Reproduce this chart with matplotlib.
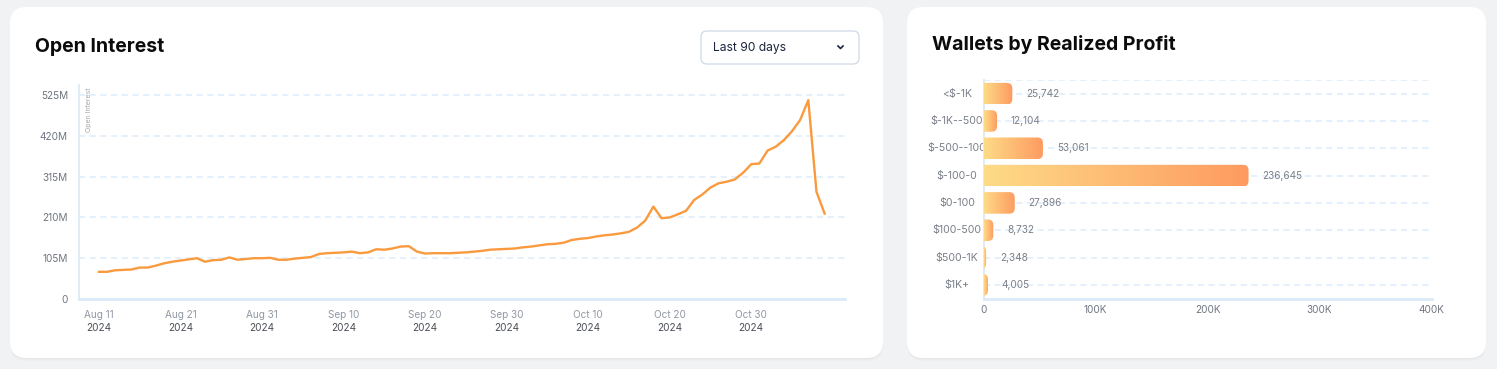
import numpy as np
import pandas as pd
import matplotlib
matplotlib.use("Agg")
import matplotlib.pyplot as plt
import matplotlib.dates as mdates
from matplotlib.patches import FancyBboxPatch, PathPatch
from matplotlib.path import Path
from matplotlib.colors import LinearSegmentedColormap
from matplotlib.transforms import Bbox, TransformedBbox, blended_transform_factory

plt.rcParams["font.family"] = ["Inter", "DejaVu Sans"]

# ---- data: open interest (millions USD), daily from Aug 11 2024
oi_start = "2024-08-11"
oi_values = [
    70, 70, 74, 75, 76, 81, 81, 86, 92, 96,
    99, 102, 105, 96, 100, 101, 107, 101, 103, 105,
    105, 106, 101, 101, 104, 106, 108, 116, 118, 119,
    120, 122, 118, 120, 128, 127, 130, 135, 136, 122,
    117, 118, 118, 118, 119, 120, 122, 124, 127, 128,
    129, 130, 133, 135, 138, 141, 142, 145, 152, 155,
    157, 161, 164, 166, 169, 173, 184, 202, 238, 208,
    210, 218, 227, 255, 269, 287, 298, 302, 308, 325,
    347, 349, 382, 392, 409, 432, 461, 512, 276, 220,
]
oi_yticks = [0, 105, 210, 315, 420, 525]
oi_ytick_labels = ["0", "105M", "210M", "315M", "420M", "525M"]
oi_tick_dates = ["2024-08-11", "2024-08-21", "2024-08-31", "2024-09-10", "2024-09-20",
                 "2024-09-30", "2024-10-10", "2024-10-20", "2024-10-30"]
oi_tick_labels = ["Aug 11", "Aug 21", "Aug 31", "Sep 10", "Sep 20",
                  "Sep 30", "Oct 10", "Oct 20", "Oct 30"]

# ---- data: wallets by realized profit
profit_bins = ["<$-1K", "$-1K--500", "$-500--100", "$-100-0",
               "$0-100", "$100-500", "$500-1K", "$1K+"]
wallet_counts = [25742, 12104, 53061, 236645, 27896, 8732, 2348, 4005]
wallet_xticks = [0, 100000, 200000, 300000, 400000]
wallet_xtick_labels = ["0", "100K", "200K", "300K", "400K"]

W, H = 1497, 369
fig = plt.figure(figsize=(W / 100, H / 100), dpi=100)
fig.patch.set_facecolor("#f1f2f3")


def px_box(x0, y0, x1, y1):
    # pixel box (top-left origin) -> figure fraction rect
    return [x0 / W, 1 - y1 / H, (x1 - x0) / W, (y1 - y0) / H]


def card(x0, y0, x1, y1):
    for k, a in [(3, 0.03), (2, 0.04), (1, 0.05)]:
        sh = FancyBboxPatch((x0 / W, 1 - (y1 + k) / H), (x1 - x0) / W, (y1 - y0) / H,
                            boxstyle="round,pad=0,rounding_size=0.011",
                            mutation_aspect=W / H, transform=fig.transFigure,
                            facecolor="#9aa0a6", edgecolor="none", alpha=a, zorder=-6)
        fig.patches.append(sh)
    c = FancyBboxPatch((x0 / W, 1 - y1 / H), (x1 - x0) / W, (y1 - y0) / H,
                       boxstyle="round,pad=0,rounding_size=0.011",
                       mutation_aspect=W / H, transform=fig.transFigure,
                       facecolor="white", edgecolor="none", zorder=-5)
    fig.patches.append(c)


card(10, 7, 883, 358)
card(907, 7, 1486, 358)

fig.text(35 / W, 1 - 47 / H, "Open Interest", fontsize=14, fontweight="bold",
         color="#0b0b0b", va="center", ha="left")
fig.text(932 / W, 1 - 44 / H, "Wallets by Realized Profit", fontsize=14, fontweight="bold",
         color="#0b0b0b", va="center", ha="left")

# dropdown
dd = FancyBboxPatch((701 / W, 1 - 64 / H), 158 / W, 33 / H,
                    boxstyle="round,pad=0,rounding_size=0.004", mutation_aspect=W / H,
                    transform=fig.transFigure, facecolor="white", edgecolor="#cfdae5",
                    linewidth=0.9, zorder=-4)
fig.patches.append(dd)
fig.text(713 / W, 1 - 47.5 / H, "Last 90 days", fontsize=8.7, color="#1d2540",
         va="center", ha="left")
fig.lines.append(plt.Line2D([838 / W, 840.5 / W, 843 / W],
                            [1 - 46 / H, 1 - 48.5 / H, 1 - 46 / H],
                            transform=fig.transFigure, color="#1d2540", lw=1.2))

grid_c = "#dcecfa"
axis_c = "#dbeaf8"

# ---- left chart
ax = fig.add_axes(px_box(79, 85, 845, 299))
ax.set_facecolor("none")
dates = pd.date_range(oi_start, periods=len(oi_values), freq="D")
ax.plot(dates, oi_values, color="#fa9a3e", lw=1.7, solid_joinstyle="round", zorder=3)
d0 = mdates.date2num(pd.Timestamp(oi_start))
ax.set_xlim(d0 - 2.45, d0 + 91.5)
ax.set_ylim(0, 551)
ax.set_yticks(oi_yticks, labels=oi_ytick_labels)
for v in oi_yticks[1:]:
    ax.axhline(v, color=grid_c, lw=1.1, ls=(0, (4, 3)), zorder=1)
tick_pos = pd.to_datetime(oi_tick_dates)
ax.set_xticks(tick_pos, labels=oi_tick_labels)
ax.tick_params(axis="both", length=0, labelsize=7.2, colors="#9199a4")
ax.tick_params(axis="x", pad=8)
ax.tick_params(axis="y", pad=8, labelcolor="#6f7580")
tr = blended_transform_factory(ax.transData, ax.transAxes)
for t in tick_pos:
    ax.text(t, -0.134, "2024", transform=tr, fontsize=7.2, color="#4a4f57",
            ha="center", va="center")
for s in ["top", "right"]:
    ax.spines[s].set_visible(False)
ax.spines["left"].set_color(axis_c)
ax.spines["left"].set_linewidth(1.3)
ax.spines["bottom"].set_color(axis_c)
ax.spines["bottom"].set_linewidth(2)
fig.text(88.5 / W, 1 - 87 / H, "Open Interest", rotation=90, fontsize=5, color="#a3a7ad",
         ha="center", va="top")

# ---- right chart
ax2 = fig.add_axes(px_box(983.5, 80, 1431.5, 298.5))
ax2.set_facecolor("none")
ypos = np.arange(len(profit_bins))
bars = ax2.barh(ypos, wallet_counts, height=0.79, color="none")
ax2.set_xlim(0, 400000)
ax2.set_ylim(len(profit_bins) - 0.5, -0.5)
fig.canvas.draw()
px_per_x = ax2.transData.transform((1, 0))[0] - ax2.transData.transform((0, 0))[0]
px_per_y = abs(ax2.transData.transform((0, 1))[1] - ax2.transData.transform((0, 0))[1])
rx_d = 5.5 / px_per_x
ry_d = 5.5 / px_per_y
cmap = LinearSegmentedColormap.from_list("bar", ["#fedb87", "#fd9a60"])
grad = np.linspace(0, 1, 256).reshape(1, -1)
for b in bars:
    x0, y0 = b.get_x(), b.get_y()
    w, h = b.get_width(), b.get_height()
    x1, y1 = x0 + w, y0 + h
    rx = min(rx_d, w)
    verts = [(x0, y0), (x1 - rx, y0), (x1, y0), (x1, y0 + ry_d), (x1, y1 - ry_d),
             (x1, y1), (x1 - rx, y1), (x0, y1), (x0, y0)]
    codes = [Path.MOVETO, Path.LINETO, Path.CURVE3, Path.CURVE3, Path.LINETO,
             Path.CURVE3, Path.CURVE3, Path.LINETO, Path.CLOSEPOLY]
    patch = PathPatch(Path(verts, codes), facecolor="none", edgecolor="none", zorder=3)
    ax2.add_patch(patch)
    im = ax2.imshow(grad, cmap=cmap, extent=(x0, x1, y1, y0), aspect="auto",
                    interpolation="bilinear", zorder=3)
    im.set_clip_path(patch)
ax2.set_xlim(0, 400000)
ax2.set_ylim(len(profit_bins) - 0.5, -0.5)

for i, v in enumerate(wallet_counts):
    ax2.hlines(i, 0, 400000, color=grid_c, lw=1.1, ls=(0, (4, 3)), zorder=1)
    ax2.annotate(f"{v:,}", (v, i), xytext=(10, 0), textcoords="offset points",
                 fontsize=7.2, color="#7a7f88", va="center", ha="left", zorder=4)
ax2.hlines(-0.5, 0, 400000, color=grid_c, lw=1.1, ls=(0, (4, 3)), zorder=1)
ax2.set_xticks(wallet_xticks, labels=wallet_xtick_labels)
ax2.set_yticks(ypos, labels=[])
ax2.tick_params(axis="both", length=0, labelsize=7.2, colors="#6f7580")
ax2.tick_params(axis="x", pad=5)
clip = TransformedBbox(Bbox([[0, 0], [983 / W, 1]]), fig.transFigure)
ylab_tr = blended_transform_factory(fig.transFigure, ax2.transData)
for i, lab in enumerate(profit_bins):
    t = ax2.text(957 / W, i, lab, fontsize=7.6, color="#7a7f88", ha="center", va="center",
                 transform=ylab_tr)
    t.set_clip_on(True)
    t.set_clip_box(clip)
for s in ["top", "right"]:
    ax2.spines[s].set_visible(False)
ax2.spines["left"].set_color(axis_c)
ax2.spines["left"].set_linewidth(1.3)
ax2.spines["bottom"].set_color(axis_c)
ax2.spines["bottom"].set_linewidth(2)

fig.savefig("out.png", dpi=100, facecolor=fig.get_facecolor())
